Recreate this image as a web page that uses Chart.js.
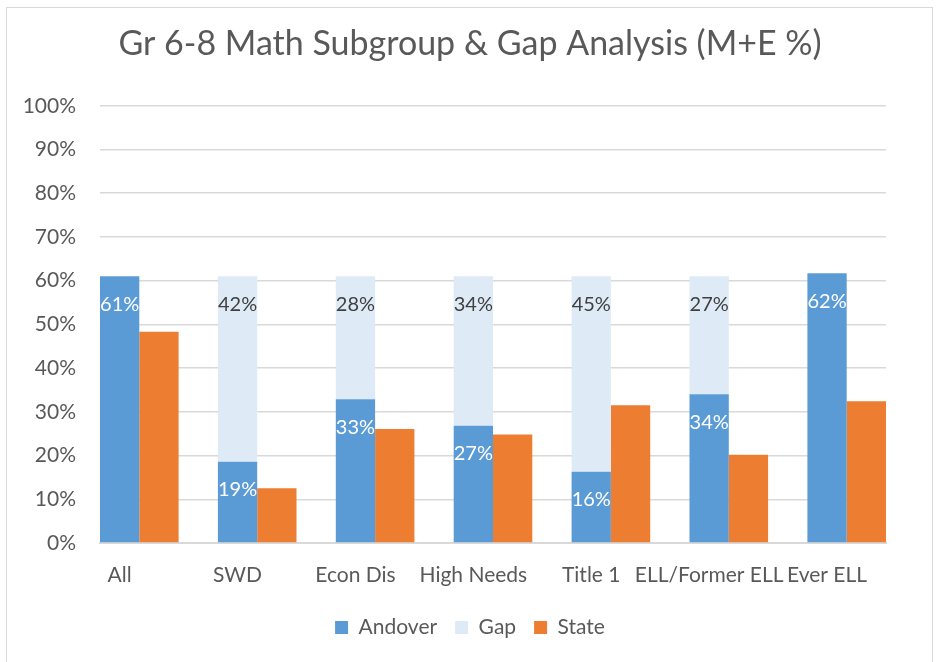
<!DOCTYPE html>
<html>
<head>
<meta charset="utf-8">
<title>Gr 6-8 Math Subgroup &amp; Gap Analysis</title>
<script src="https://cdn.jsdelivr.net/npm/chart.js@4.4.1/dist/chart.umd.min.js"></script>
<style>
  html, body { margin: 0; padding: 0; background: #fff; overflow: hidden; }
  #wrap { position: relative; width: 940px; height: 662px; }
  #myChart { position: absolute; left: 0; top: 0; }
  #frame {
    position: absolute; left: 6px; top: 7px; width: 927px; height: 700px;
    box-sizing: border-box; border: 1px solid #d9d9d9; pointer-events: none;
  }
</style>
</head>
<body>
<div id="wrap">
  <canvas id="myChart" width="940" height="662"></canvas>
  <div id="frame"></div>
</div>
<script>
const categories = ["All", "SWD", "Econ Dis", "High Needs", "Title 1", "ELL/Former ELL", "Ever ELL"];
const andover = [61.0, 18.6, 32.9, 26.8, 16.3, 34.0, 61.7];
const gap = [0, 42.4, 28.1, 34.2, 44.7, 27.0, 0];
const state = [48.3, 12.5, 26.1, 24.8, 31.5, 20.2, 32.4];
const yTicks = [0, 10, 20, 30, 40, 50, 60, 70, 80, 90, 100];

const textColor = "#595959";
const fontFamily = "Lato, 'Open Sans', sans-serif";

// Bars sit at the category index on a linear axis
const toPoints = (values) => values.map((y, i) => ({ x: i, y }));

// Draws the value labels inside the top of the bars
const barLabels = {
  id: "barLabels",
  afterDatasetsDraw(chart) {
    const { ctx } = chart;
    ctx.save();
    ctx.font = `20px ${fontFamily}`;
    ctx.textAlign = "center";
    ctx.textBaseline = "middle";
    chart.data.datasets.forEach((dataset, i) => {
      if (!dataset.labelColor) return;
      ctx.fillStyle = dataset.labelColor;
      chart.getDatasetMeta(i).data.forEach((bar, j) => {
        const value = dataset.data[j].y;
        if (!value) return;
        ctx.fillText(`${Math.round(value)}%`, bar.x, bar.y + 28);
      });
    });
    ctx.restore();
  },
};

new Chart(document.getElementById("myChart"), {
  type: "bar",
  data: {
    datasets: [
      {
        label: "Andover",
        data: toPoints(andover),
        backgroundColor: "#5B9BD5",
        stack: "andover",
        labelColor: "#ffffff",
      },
      {
        label: "Gap",
        data: toPoints(gap),
        backgroundColor: "#DEEBF7",
        stack: "andover",
        labelColor: "#404040",
      },
      {
        label: "State",
        data: toPoints(state),
        backgroundColor: "#ED7D31",
        stack: "state",
      },
    ],
  },
  plugins: [barLabels],
  options: {
    responsive: false,
    animation: false,
    categoryPercentage: 2 / 3,
    barPercentage: 1,
    layout: { padding: { left: 0, right: 0, top: 0, bottom: 14 } },
    scales: {
      x: {
        type: "linear",
        offset: false,
        min: -1 / 3,
        max: categories.length - 1 + 1 / 3,
        grid: { display: false, drawTicks: false },
        border: { display: true, color: "#d9d9d9", width: 2 },
        afterBuildTicks: (axis) => {
          // category names sit under the Andover bar of each group
          axis.ticks = categories.map((_, i) => ({ value: i - 1 / 6 }));
        },
        afterFit: (axis) => {
          axis.height = 56;
        },
        ticks: {
          callback: (value, index) => categories[index],
          autoSkip: false,
          maxRotation: 0,
          minRotation: 0,
          padding: 20,
          color: textColor,
          font: { family: fontFamily, size: 21 },
        },
      },
      y: {
        stacked: true,
        min: 0,
        max: 100,
        afterBuildTicks: (axis) => {
          axis.ticks = yTicks.map((value) => ({ value }));
        },
        afterFit: (axis) => {
          axis.width = 100;
        },
        grid: { color: "#d9d9d9", lineWidth: 1.5, drawTicks: false },
        border: { display: false },
        ticks: {
          callback: (value) => `${value}%`,
          padding: 24,
          color: textColor,
          font: { family: fontFamily, size: 21 },
        },
      },
      right: {
        position: "right",
        display: true,
        grid: { display: false, drawTicks: false },
        border: { display: false },
        ticks: { display: false },
        afterFit: (axis) => {
          axis.width = 54;
        },
      },
    },
    plugins: {
      title: {
        display: true,
        text: "Gr 6-8 Math Subgroup & Gap Analysis (M+E %)",
        color: textColor,
        font: { family: fontFamily, size: 34, weight: "normal" },
        padding: { top: 24, bottom: 41 },
      },
      legend: {
        position: "bottom",
        labels: {
          boxWidth: 13,
          boxHeight: 13,
          padding: 18,
          color: textColor,
          font: { family: fontFamily, size: 21 },
        },
      },
      tooltip: { enabled: false },
    },
  },
});
</script>
</body>
</html>
